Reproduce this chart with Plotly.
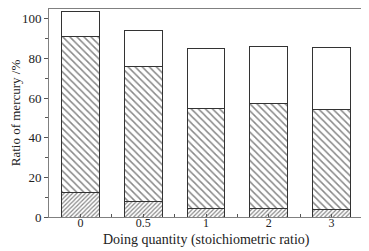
import plotly.graph_objects as go

categories = ["0", "0.5", "1", "2", "3"]
bottom_vals = [12.3, 7.6, 4.5, 4.5, 4.0]
middle_vals = [78.9, 68.2, 50.5, 52.6, 50.4]
top_vals = [12.3, 18.6, 30.2, 29.1, 31.1]
y_ticks = [0, 20, 40, 60, 80, 100]
x_title = "Doing quantity (stoichiometric ratio)"
y_title = "Ratio of mercury /%"

xpos = list(range(len(categories)))
line = dict(color="#333333", width=1)

fig = go.Figure()
fig.add_bar(x=xpos, y=bottom_vals, width=0.6,
            marker=dict(color="white", line=line,
                        pattern=dict(shape="/", size=3, solidity=0.4, fgcolor="#111111", bgcolor="white")))
fig.add_bar(x=xpos, y=middle_vals, width=0.6,
            marker=dict(color="white", line=line,
                        pattern=dict(shape="\\", size=5, solidity=0.3, fgcolor="#111111", bgcolor="white")))
fig.add_bar(x=xpos, y=top_vals, width=0.6,
            marker=dict(color="white", line=line))

font = dict(family="Liberation Serif, Times New Roman, serif", size=13, color="#222222")
xtick_font = dict(family="Liberation Serif, Times New Roman, serif", size=12, color="#222222")
xtitle_font = dict(family="Liberation Serif, Times New Roman, serif", size=14, color="#222222")
# page body has an 8px margin, so the figure is offset by (8, 8)
fig.update_layout(
    barmode="stack", width=361, height=243, showlegend=False,
    margin=dict(l=41, r=6, t=1, b=34, autoexpand=False),
    paper_bgcolor="white", plot_bgcolor="white", font=font,
    xaxis=dict(range=[-0.5, 4.5], tickvals=xpos, ticktext=categories, automargin=False,
               ticks="inside", ticklen=3, tickcolor="#555555", ticklabelstandoff=-5,
               tickfont=xtick_font,
               minor=dict(tickvals=[0.5, 1.5, 2.5, 3.5], ticks="inside", ticklen=3, tickcolor="#555555"),
               showline=True, linecolor="#808080", linewidth=1, mirror=True,
               showgrid=False, zeroline=False),
    yaxis=dict(range=[0, 105], tickvals=y_ticks, automargin=False,
               ticks="outside", ticklen=4, tickcolor="#555555",
               minor=dict(dtick=10, ticks="outside", ticklen=3, tickcolor="#555555", showgrid=False),
               showline=True, linecolor="#808080", linewidth=1, mirror=True,
               showgrid=False, zeroline=False,
               title=dict(text=y_title, standoff=4, font=font)),
    annotations=[dict(text=x_title, xref="paper", yref="paper", x=0.5, y=0,
                      xanchor="center", yanchor="top", yshift=-14, showarrow=False,
                      borderpad=0, font=xtitle_font)],
)
fig.write_html("out.html")
